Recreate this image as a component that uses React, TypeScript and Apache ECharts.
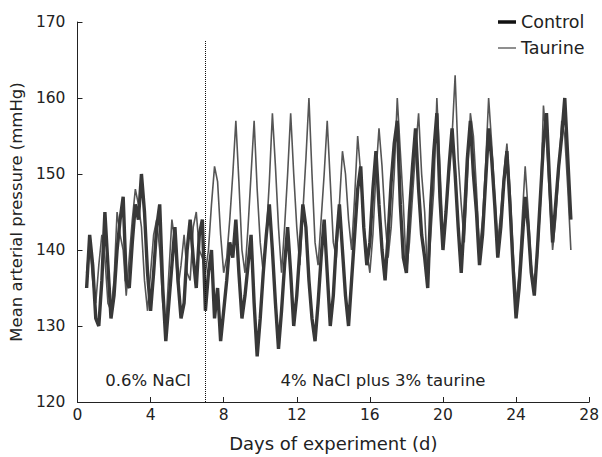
import React, { useEffect, useRef } from "react";
import * as echarts from "echarts";

// sampling: every 1/6 day (4 h) starting at day 0.5
const startDay = 0.5;
const samplesPerDay = 6;

const controlValues = [
  135, 142, 138, 131,
  130, 136, 145, 138, 131, 134,
  140, 144, 147, 136, 135, 141,
  146, 144, 150, 145, 137, 132,
  137, 143, 146, 135, 128, 133,
  138, 143, 136, 131, 133, 140,
  144, 139, 135, 142, 144, 132,
  137, 140, 131, 135, 128, 132,
  136, 141, 139, 144, 137, 131,
  134, 138, 142, 133, 126, 131,
  137, 142, 146, 140, 133, 127,
  132, 138, 143, 137, 130, 134,
  140, 146, 143, 136, 131, 128,
  133, 139, 144, 137, 130, 134,
  141, 146, 140, 134, 130, 136,
  142, 148, 151, 143, 138, 141,
  148, 153, 146, 140, 136, 142,
  149, 154, 157, 146, 139, 137,
  145, 151, 156, 148, 142, 139,
  135, 146, 153, 158, 147, 140,
  145, 151, 156, 150, 143, 137,
  144, 152, 157, 150, 145, 138,
  142, 149, 156, 152, 146, 139,
  143, 149, 153, 146, 138, 131,
  135, 141, 147, 143, 137, 134,
  140, 147, 154, 158, 149, 141,
  146, 151, 155, 160, 152, 144,
];

const taurineValues = [
  137, 141, 136, 133,
  138, 142, 139, 133, 132, 136,
  145, 142, 140, 134, 139, 144,
  148, 146, 143, 136, 132, 137,
  142, 144, 140, 133, 130, 137,
  144, 141, 135, 138, 142, 137,
  136, 143, 145, 140, 139, 137,
  140, 146, 151, 149, 142, 137,
  139, 144, 150, 157, 149, 140,
  137, 143, 150, 157, 148, 141,
  137, 142, 149, 158, 151, 143,
  137, 143, 150, 158, 150, 143,
  138, 145, 152, 160, 150, 141,
  138, 144, 150, 157, 149, 141,
  139, 146, 153, 150, 144, 140,
  147, 155, 150, 143, 140, 137,
  142, 150, 156, 151, 144, 139,
  143, 150, 160, 153, 146, 137,
  141, 147, 153, 158, 150, 145,
  136, 142, 148, 160, 151, 142,
  145, 150, 155, 163, 152, 146,
  141, 149, 158, 155, 148, 140,
  144, 151, 160, 154, 147, 141,
  145, 150, 154, 148, 140, 133,
  137, 144, 151, 145, 138, 135,
  139, 146, 159, 154, 147, 140,
  144, 150, 157, 155, 148, 140,
];

const xTicks = [0, 4, 8, 12, 16, 20, 24, 28];
const yTicks = [120, 130, 140, 150, 160, 170];
const dietChangeDay = 7;
const seriesNames = ["Control", "Taurine"];
const phaseLabels = ["0.6% NaCl", "4% NaCl plus 3% taurine"];

const toPairs = (vals: number[]) => vals.map((v, i) => [startDay + i / samplesPerDay, v]);

const FONT = "DejaVu Sans, Verdana, sans-serif";
const TXT = "#222";

export default function App() {
  const ref = useRef<HTMLDivElement>(null);
  useEffect(() => {
    if (!ref.current) return;
    const chart = echarts.init(ref.current, undefined, { renderer: "svg" });
    chart.setOption({
      animation: false,
      backgroundColor: "#fff",
      textStyle: { fontFamily: FONT },
      grid: { left: 76, right: 10, top: 22, bottom: 54 },
      xAxis: {
        type: "value",
        min: xTicks[0],
        max: xTicks[xTicks.length - 1],
        interval: 4,
        name: "Days of experiment (d)",
        nameLocation: "middle",
        nameGap: 32,
        nameTextStyle: { fontSize: 18, color: TXT, fontFamily: FONT },
        axisLine: { lineStyle: { color: "#222", width: 1 } },
        axisTick: { inside: true, length: 5, lineStyle: { color: "#222" } },
        axisLabel: { fontSize: 15.5, color: TXT, fontFamily: FONT, margin: 5 },
        splitLine: { show: false },
      },
      yAxis: {
        type: "value",
        min: yTicks[0],
        max: yTicks[yTicks.length - 1],
        interval: 10,
        name: "Mean arterial pressure (mmHg)",
        nameLocation: "middle",
        nameGap: 46,
        nameTextStyle: { fontSize: 16.5, color: TXT, fontFamily: FONT },
        axisLine: { show: true, lineStyle: { color: "#222", width: 1 } },
        axisTick: { show: true, inside: true, length: 5, lineStyle: { color: "#222" } },
        axisLabel: { fontSize: 15.5, color: TXT, fontFamily: FONT, margin: 12 },
        splitLine: { show: false },
      },
      series: [
        {
          name: seriesNames[1],
          type: "line",
          data: toPairs(taurineValues),
          showSymbol: false,
          lineStyle: { color: "#555", width: 1.6 },
          z: 2,
        },
        {
          name: seriesNames[0],
          type: "line",
          data: toPairs(controlValues),
          showSymbol: false,
          lineStyle: { color: "#383838", width: 3.4 },
          z: 3,
          markLine: {
            silent: true,
            symbol: "none",
            label: { show: false },
            lineStyle: { color: "#111", type: "dotted", width: 1 },
            data: [[{ coord: [dietChangeDay, 120] }, { coord: [dietChangeDay, 167.5] }]],
          },
        },
      ],
      graphic: [
        { type: "line", shape: { x1: 498, y1: 22, x2: 516, y2: 22 }, style: { stroke: "#111", lineWidth: 3.5 } },
        { type: "text", x: 521, y: 22, style: { text: seriesNames[0], fontSize: 17.5, fill: TXT, fontFamily: FONT, verticalAlign: "middle" } },
        { type: "line", shape: { x1: 498, y1: 48, x2: 516, y2: 48 }, style: { stroke: "#444", lineWidth: 1.2 } },
        { type: "text", x: 521, y: 48, style: { text: seriesNames[1], fontSize: 17.5, fill: TXT, fontFamily: FONT, verticalAlign: "middle" } },
        { type: "text", x: 148, y: 380, style: { text: phaseLabels[0], fontSize: 16.5, fill: TXT, fontFamily: FONT, align: "center", verticalAlign: "middle" } },
        { type: "text", x: 383, y: 380, style: { text: phaseLabels[1], fontSize: 16.5, fill: TXT, fontFamily: FONT, align: "center", verticalAlign: "middle" } },
      ],
    });
    return () => chart.dispose();
  }, []);
  return (
    <div
      ref={ref}
      style={{ position: "absolute", left: 0, top: 0, width: 602, height: 457 }}
    />
  );
}
